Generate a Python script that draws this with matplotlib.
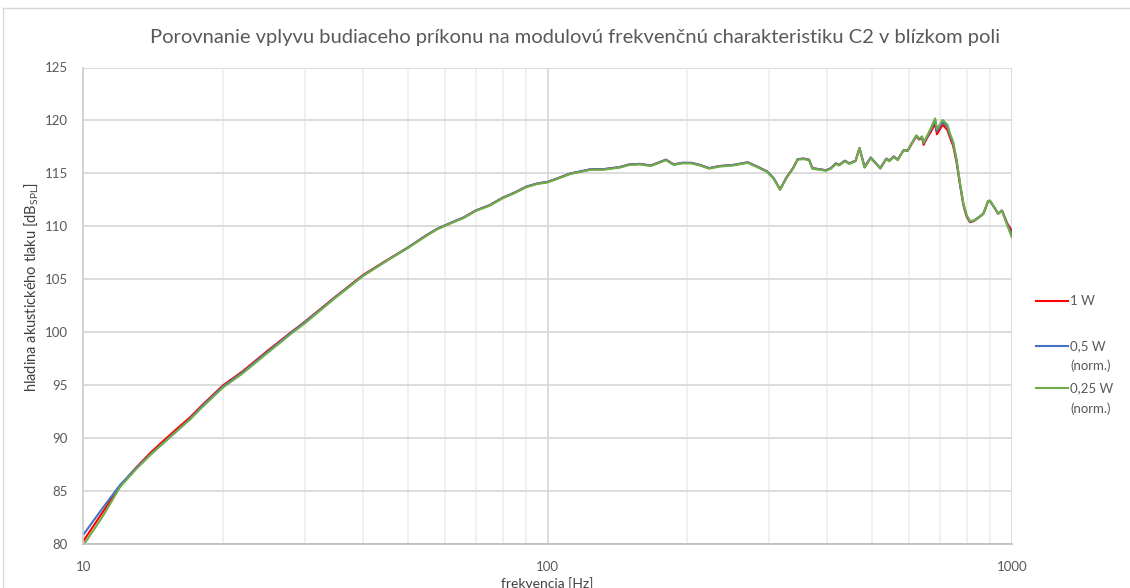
import matplotlib

matplotlib.use("Agg")
import matplotlib.pyplot as plt
from matplotlib.lines import Line2D
from matplotlib.ticker import FixedLocator, NullFormatter

# frequency points [Hz]
freq_hz = [10, 11, 12, 13, 14, 15, 16, 17, 18, 20, 22, 25, 28, 30, 35, 40, 45, 50,
           55, 58, 62, 66, 70, 75, 80, 85, 90, 95, 100, 106, 112, 118, 124, 132,
           143, 150, 158, 167, 180, 187, 195, 204, 213, 223, 235, 251, 270, 286,
           297, 307, 317, 327, 338, 346, 356, 366, 372, 385, 398, 408, 418, 425,
           437, 447, 461, 470, 482, 497, 521, 537, 545, 557, 568, 585, 597, 609,
           623, 632, 641, 646, 658, 670, 684, 690, 710, 727, 736, 748, 761, 774,
           787, 800, 813, 828, 841, 856, 869, 890, 898, 920, 935, 953, 978, 1000]

spl_1w = [80.3, 83.0, 85.5, 87.25, 88.7, 89.9, 91.0, 92.0, 93.1, 95.0, 96.3, 98.3,
          100.0, 101.0, 103.4, 105.4, 106.8, 108.0, 109.2, 109.8, 110.35, 110.85,
          111.5, 112.0, 112.7, 113.2, 113.75, 114.05, 114.2, 114.6, 115.0, 115.2,
          115.4, 115.4, 115.6, 115.85, 115.9, 115.75, 116.3, 115.85, 116.0, 116.0,
          115.8, 115.5, 115.7, 115.8, 116.05, 115.55, 115.2, 114.55, 113.5, 114.6,
          115.5, 116.35, 116.4, 116.3, 115.5, 115.4, 115.3, 115.5, 115.95, 115.8,
          116.2, 115.95, 116.2, 117.4, 115.6, 116.5, 115.5, 116.4, 116.2, 116.6,
          116.3, 117.2, 117.15, 117.8, 118.5, 118.2, 118.4, 117.7, 118.4, 118.95,
          119.7, 118.7, 119.6, 119.1, 118.4, 117.6, 116.0, 113.9, 112.0, 110.9,
          110.4, 110.5, 110.7, 110.95, 111.2, 112.4, 112.4, 111.7, 111.2, 111.5,
          110.3, 109.6]

spl_05w = [80.9, 83.4, 85.6, 87.2, 88.55, 89.7, 90.8, 91.85, 93.0, 94.9, 96.2, 98.2,
           99.95, 100.95, 103.35, 105.35, 106.75, 108.0, 109.2, 109.8, 110.35, 110.85,
           111.5, 112.0, 112.7, 113.2, 113.75, 114.05, 114.2, 114.6, 115.0, 115.2,
           115.4, 115.4, 115.6, 115.85, 115.9, 115.75, 116.3, 115.85, 116.0, 116.0,
           115.8, 115.5, 115.7, 115.8, 116.05, 115.55, 115.2, 114.55, 113.5, 114.6,
           115.5, 116.35, 116.4, 116.3, 115.5, 115.4, 115.3, 115.5, 115.95, 115.8,
           116.2, 115.95, 116.2, 117.4, 115.6, 116.5, 115.5, 116.4, 116.2, 116.6,
           116.3, 117.2, 117.15, 117.85, 118.55, 118.25, 118.45, 117.85, 118.5, 119.15,
           120.0, 119.0, 119.85, 119.4, 118.65, 117.8, 116.2, 114.0, 112.1, 111.0,
           110.45, 110.55, 110.75, 111.0, 111.2, 112.4, 112.4, 111.7, 111.2, 111.5,
           110.2, 109.3]

spl_025w = [79.9, 82.6, 85.4, 87.1, 88.5, 89.7, 90.8, 91.8, 92.9, 94.8, 96.1, 98.1,
            99.85, 100.85, 103.3, 105.3, 106.75, 107.95, 109.15, 109.75, 110.3, 110.8,
            111.45, 111.95, 112.65, 113.15, 113.7, 114.0, 114.15, 114.55, 114.95, 115.15,
            115.35, 115.35, 115.55, 115.8, 115.85, 115.7, 116.25, 115.8, 115.95, 115.95,
            115.75, 115.45, 115.65, 115.75, 116.0, 115.5, 115.15, 114.5, 113.45, 114.55,
            115.45, 116.3, 116.35, 116.25, 115.45, 115.35, 115.25, 115.45, 115.9, 115.75,
            116.15, 115.9, 116.15, 117.4, 115.55, 116.45, 115.45, 116.35, 116.15, 116.55,
            116.25, 117.2, 117.15, 117.85, 118.6, 118.3, 118.5, 117.9, 118.6, 119.3,
            120.2, 119.2, 120.05, 119.6, 118.8, 118.0, 116.3, 114.05, 112.15, 111.05,
            110.5, 110.55, 110.7, 110.95, 111.2, 112.4, 112.45, 111.7, 111.2, 111.5,
            110.1, 109.0]

series = [spl_1w, spl_05w, spl_025w]
series_labels = ["1 W", "0,5 W\n(norm.)", "0,25 W\n(norm.)"]
series_colors = ["#FF0000", "#4472C4", "#70AD47"]

y_ticks = list(range(80, 126, 5))
x_ticks = [10, 100, 1000]
x_minor = [20, 30, 40, 50, 60, 70, 80, 90, 200, 300, 400, 500, 600, 700, 800, 900]

TITLE = "Porovnanie vplyvu budiaceho príkonu na modulovú frekvenčnú charakteristiku C2 v blízkom poli"
GREY = "#595959"

plt.rcParams["font.family"] = ["Lato", "DejaVu Sans"]

W, H = 1130, 588
fig = plt.figure(figsize=(W / 100, H / 100), dpi=100)
ax = fig.add_axes([83.3 / W, 1 - 544.3 / H, (1011.7 - 83.3) / W, (544.3 - 67.5) / H])

for ys, c in zip(series, series_colors):
    ax.plot(freq_hz, ys, color=c, lw=1.5, solid_joinstyle="round")

ax.set_xscale("log")
ax.set_xlim(10, 1000)
ax.set_ylim(80, 125)
ax.xaxis.set_major_locator(FixedLocator(x_ticks))
ax.xaxis.set_minor_locator(FixedLocator(x_minor))
ax.xaxis.set_minor_formatter(NullFormatter())
ax.set_xticklabels([str(t) for t in x_ticks])
ax.set_yticks(y_ticks)

ax.grid(True, which="major", axis="both", color="#D9D9D9", lw=1.3)
ax.grid(True, which="minor", axis="x", color="#EDEDED", lw=1.2)
ax.set_axisbelow(True)

for s in ["top", "right"]:
    ax.spines[s].set_visible(False)
ax.spines["bottom"].set_color("#BFBFBF")
ax.spines["left"].set_color("#D0D0D0")
ax.spines["bottom"].set_linewidth(1.3)
ax.spines["left"].set_linewidth(1.3)

ax.tick_params(axis="both", which="both", length=0, labelcolor=GREY, labelsize=9.5)
ax.tick_params(axis="y", pad=11)
ax.tick_params(axis="x", pad=12)

ax.set_ylabel("hladina akustického tlaku [dB$_{\\mathregular{SPL}}$]", fontsize=10.5, color="#404040")
ax.yaxis.set_label_coords(-0.046, 0.54)
ax.set_xlabel("frekvencia [Hz]", fontsize=10, color="#404040")
ax.xaxis.set_label_coords(0.5, -0.068)

fig.text(575 / W, 1 - 37 / H, TITLE, ha="center", va="center", fontsize=14.5, color=GREY)

# chart frame
fig.add_artist(Line2D([3 / W, 1], [1 - 8 / H, 1 - 8 / H], color="#D9D9D9", lw=1))
fig.add_artist(Line2D([3 / W, 3 / W], [0, 1 - 8 / H], color="#D9D9D9", lw=1))

# legend
leg_y = [300.7, 346, 388.3]
for lbl, c, yp in zip(series_labels, series_colors, leg_y):
    fy = 1 - yp / H
    fig.add_artist(Line2D([1036 / W, 1068 / W], [fy, fy], color=c, lw=1.5))
    for k, part in enumerate(lbl.split("\n")):
        fig.text(1070 / W, 1 - (yp + 20 * k) / H, part, ha="left", va="center",
                 fontsize=9.5, color=GREY)

fig.savefig("out.png", dpi=100)
